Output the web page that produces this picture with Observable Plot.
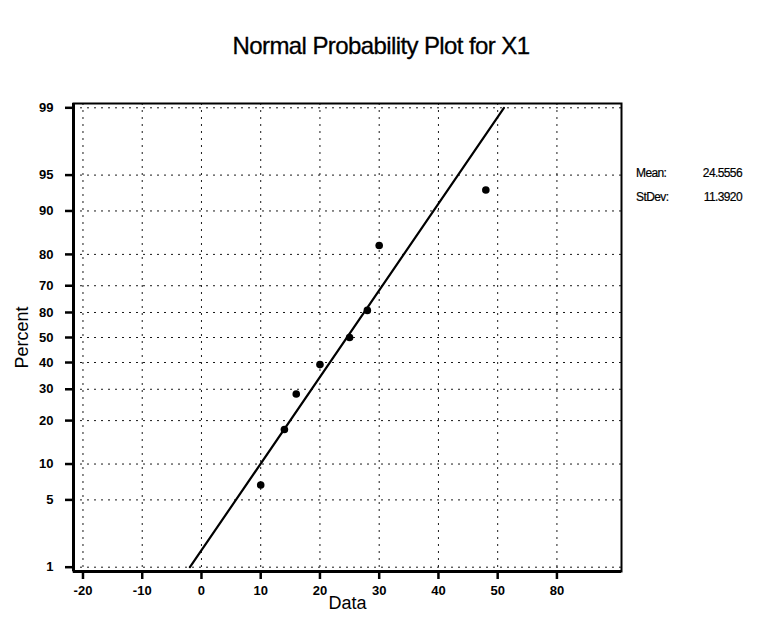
<!DOCTYPE html>
<html>
<head>
<meta charset="utf-8">
<script src="https://cdn.jsdelivr.net/npm/d3@7"></script>
<script src="https://cdn.jsdelivr.net/npm/@observablehq/plot@0.6"></script>
<style>
  body { margin: 0; background: #fff; width: 760px; height: 641px; overflow: hidden; position: relative;
         font-family: "Liberation Sans Narrow", "Liberation Sans", Arial, sans-serif; }
  #title { height: 80px; box-sizing: border-box; padding-top: 32px; text-align: center; font-size: 24px;
           letter-spacing: -0.6px; color: #000; padding-left: 2px; -webkit-text-stroke: 0.3px #000; }
  .stat { position: absolute; font-size: 12px; letter-spacing: -0.6px; color: #000; -webkit-text-stroke: 0.2px #000; }
</style>
</head>
<body>
<div id="title">Normal Probability Plot for X1</div>
<div id="chart"></div>
<script>
// ---- data ----
const dataValues = [10, 14, 16, 20, 25, 28, 30, 48];
const dataPercents = [6.76, 17.57, 28.38, 39.19, 50.0, 60.81, 82.43, 93.24];
const fitX = [-1.95, 51.06];
const fitPercent = [1, 99];
const xTicks = [-20, -10, 0, 10, 20, 30, 40, 50, 60];
const xTickLabels = ["-20", "-10", "0", "10", "20", "30", "40", "50", "80"];
const yTicksPct = [1, 5, 10, 20, 30, 40, 50, 60, 70, 80, 90, 95, 99];
const yTickLabels = ["1", "5", "10", "20", "30", "40", "50", "80", "70", "80", "90", "95", "99"];
const statNames = ["Mean:", "StDev:"];
const statValues = ["24.5556", "11.3920"];

// inverse normal CDF (probability scale transform)
function probit(p) {
  const a = [-3.969683028665376e+01, 2.209460984245205e+02, -2.759285104469687e+02, 1.383577518672690e+02, -3.066479806614716e+01, 2.506628277459239e+00];
  const b = [-5.447609879822406e+01, 1.615858368580409e+02, -1.556989798598866e+02, 6.680131188771972e+01, -1.328068155288572e+01];
  const c = [-7.784894002430293e-03, -3.223964580411365e-01, -2.400758277161838e+00, -2.549732539343734e+00, 4.374664141464968e+00, 2.938163982698783e+00];
  const d = [7.784695709041462e-03, 3.224671290700398e-01, 2.445134137142996e+00, 3.754408661907416e+00];
  const plow = 0.02425;
  let q, r;
  if (p < plow) {
    q = Math.sqrt(-2 * Math.log(p));
    return (((((c[0]*q+c[1])*q+c[2])*q+c[3])*q+c[4])*q+c[5]) / ((((d[0]*q+d[1])*q+d[2])*q+d[3])*q+1);
  } else if (p <= 1 - plow) {
    q = p - 0.5; r = q * q;
    return (((((a[0]*r+a[1])*r+a[2])*r+a[3])*r+a[4])*r+a[5])*q / (((((b[0]*r+b[1])*r+b[2])*r+b[3])*r+b[4])*r+1);
  } else {
    q = Math.sqrt(-2 * Math.log(1 - p));
    return -(((((c[0]*q+c[1])*q+c[2])*q+c[3])*q+c[4])*q+c[5]) / ((((d[0]*q+d[1])*q+d[2])*q+d[3])*q+1);
  }
}

const points = dataValues.map((v, i) => ({x: v, z: probit(dataPercents[i] / 100)}));
const fitLine = fitX.map((v, i) => ({x: v, z: probit(fitPercent[i] / 100)}));
const yTicksZ = yTicksPct.map(p => probit(p / 100));
const yLabelMap = new Map(yTicksZ.map((z, i) => [z, yTickLabels[i]]));
const xLabelMap = new Map(xTicks.map((x, i) => [x, xTickLabels[i]]));

const gridStyle = {stroke: "#000", strokeOpacity: 0.9, strokeWidth: 1, strokeDasharray: "2,5"};

const chart = Plot.plot({
  width: 760,
  height: 561,
  marginTop: 23,
  marginBottom: 70,
  marginLeft: 73,
  marginRight: 139,
  style: {fontFamily: "'Liberation Sans Narrow', 'Liberation Sans', Arial, sans-serif", background: "#fff", color: "#000"},
  x: {domain: [-21.6, 70.9]},
  y: {domain: [-2.37, 2.37]},
  marks: [
    Plot.gridX(xTicks, gridStyle),
    Plot.gridY(yTicksZ, gridStyle),
    Plot.axisX(xTicks, {tickSize: 8, strokeWidth: 2.5, tickPadding: 6, fontSize: 13, fontWeight: "bold",
      letterSpacing: "-0.6px", tickFormat: d => xLabelMap.get(d), label: null}),
    Plot.axisY(yTicksZ, {tickSize: 8, strokeWidth: 2.5, tickPadding: 12, fontSize: 13, fontWeight: "bold",
      letterSpacing: "-0.6px", tickFormat: d => yLabelMap.get(d), label: null}),
    Plot.frame({stroke: "#000", strokeWidth: 2}),
    Plot.ruleX([-21.6], {stroke: "#000", strokeWidth: 3}),
    Plot.ruleY([-2.37], {stroke: "#000", strokeWidth: 3}),
    Plot.line(fitLine, {x: "x", y: "z", stroke: "#000", strokeWidth: 2.2}),
    Plot.dot(points, {x: "x", y: "z", r: 3.8, fill: "#000", stroke: "none"}),
    Plot.text(["Data"], {frameAnchor: "bottom", dy: 37, fontSize: 18, letterSpacing: "-0.8px"}),
    Plot.text(["Percent"], {frameAnchor: "left", textAnchor: "middle", dx: -51, rotate: -90, fontSize: 18, letterSpacing: "-0.3px"})
  ]
});
document.getElementById("chart").appendChild(chart);

// statistics box at right
statNames.forEach((name, i) => {
  const n = document.createElement("div");
  n.className = "stat"; n.textContent = name;
  n.style.left = "636px"; n.style.top = (166 + i * 24) + "px";
  document.body.appendChild(n);
  const v = document.createElement("div");
  v.className = "stat"; v.textContent = statValues[i];
  v.style.right = "18px"; v.style.top = (166 + i * 24) + "px";
  document.body.appendChild(v);
});
</script>
</body>
</html>
